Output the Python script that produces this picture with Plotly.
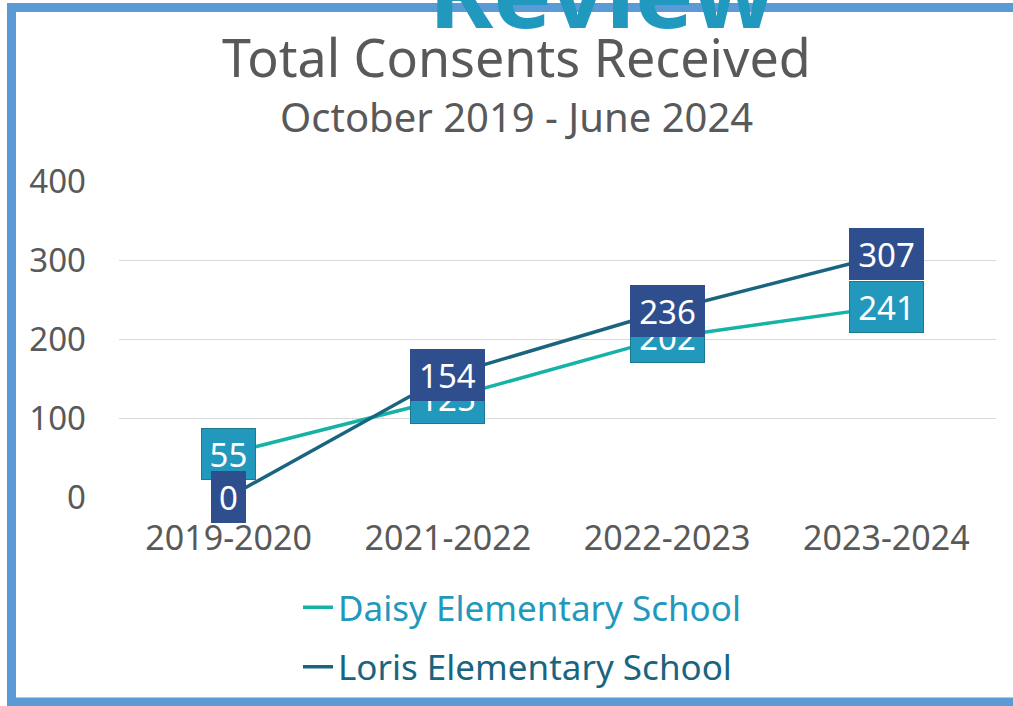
import plotly.graph_objects as go

categories = ["2019-2020", "2021-2022", "2022-2023", "2023-2024"]
daisy = [55, 125, 202, 241]
loris = [0, 154, 236, 307]
series_names = ["Daisy Elementary School", "Loris Elementary School"]
y_ticks = [0, 100, 200, 300, 400]

W, H = 1013, 706
L, R, T, B = 119, 17, 181, 209
PW, PH = W - L - R, H - T - B

def px(x):
    return (x - L) / PW

def py(y):
    return (H - B - y) / PH

FONT = "Noto Sans, Open Sans, DejaVu Sans, sans-serif"
GREY = "#595959"
DAISY_LINE = "#15b2a8"
LORIS_LINE = "#19657f"
DAISY_BOX = "#2298bd"
LORIS_BOX = "#2e4e8e"

fig = go.Figure()
fig.add_trace(go.Scatter(
    x=categories, y=daisy, mode="lines",
    line=dict(color=DAISY_LINE, width=3.5),
    name="<span style='color:#2298bd'>%s</span>" % series_names[0],
    legendgroup="a"))
fig.add_trace(go.Scatter(
    x=categories, y=loris, mode="lines",
    line=dict(color=LORIS_LINE, width=3.5),
    name="<span style='color:#19657f'>%s</span>" % series_names[1],
    legendgroup="b"))

for vals, bg, bd in [(daisy, DAISY_BOX, "#1b7a90"), (loris, LORIS_BOX, LORIS_BOX)]:
    for c, v in zip(categories, vals):
        s = str(v)
        fig.add_annotation(
            x=c, y=v, text=s, showarrow=False, xanchor="center", yanchor="middle",
            bgcolor=bg, bordercolor=bd, borderwidth=1, borderpad=0,
            width=13 + 20 * len(s), height=50,
            font=dict(family=FONT, size=33, color="white"))

# Title, subtitle and cropped heading
fig.add_annotation(xref="paper", yref="paper", x=px(516), y=py(57), text="Total Consents Received",
                   showarrow=False, xanchor="center", yanchor="middle",
                   font=dict(family=FONT, size=52, color=GREY))
fig.add_annotation(xref="paper", yref="paper", x=px(516), y=py(116), text="October 2019 - June 2024",
                   showarrow=False, xanchor="center", yanchor="middle",
                   font=dict(family=FONT, size=40, color=GREY))
fig.add_annotation(xref="paper", yref="paper", x=px(602), y=py(-10), text="<b>Review</b>",
                   showarrow=False, xanchor="center", yanchor="middle",
                   font=dict(family=FONT, size=98, color="#2199bf"))

# Frame
fig.add_shape(type="rect", xref="paper", yref="paper",
              x0=px(11.5), x1=px(1040), y0=py(702), y1=py(7.5),
              line=dict(color="#5b9bd5", width=9), layer="below")

fig.update_layout(
    width=W, height=H,
    margin=dict(l=L, r=R, t=T, b=B, autoexpand=False),
    paper_bgcolor="white", plot_bgcolor="white",
    showlegend=True,
    legend=dict(x=px(298), y=py(578), xanchor="left", yanchor="top",
                orientation="v", tracegroupgap=11,
                font=dict(family=FONT, size=35), bgcolor="rgba(0,0,0,0)"),
    xaxis=dict(type="category", range=[-0.5, 3.5], showgrid=False, showline=False,
               zeroline=False, ticks="", ticklabelstandoff=18,
               tickfont=dict(family=FONT, size=34, color=GREY)),
    yaxis=dict(range=[0, 400], tickvals=y_ticks, showgrid=True, gridcolor="#d9d9d9",
               gridwidth=1, zeroline=False, showline=False, ticks="",
               ticklabelstandoff=32,
               tickfont=dict(family=FONT, size=33, color=GREY)),
)

fig.write_html("out.html", config={"displayModeBar": False},
               post_script="document.body.style.margin='0';document.body.style.overflow='hidden';")
